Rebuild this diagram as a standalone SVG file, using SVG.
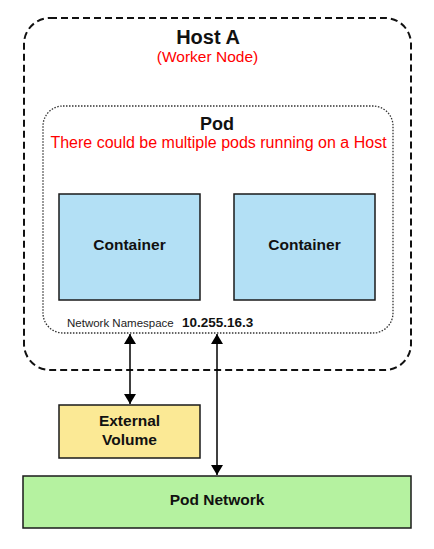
<svg xmlns="http://www.w3.org/2000/svg" width="434" height="549" viewBox="0 0 434 549">
<style>
.t{font-family:"Liberation Sans",Arial,sans-serif;text-anchor:middle}
.b{font-weight:bold;fill:#111}
.r{fill:#ff0000}
.box{stroke:#1a1a1a;stroke-width:1.5}
.edge{stroke:#000;stroke-width:1.5;fill:none}
</style>
<defs>
<marker id="ah" viewBox="0 0 10 10" refX="10" refY="5" markerWidth="10" markerHeight="12" markerUnits="userSpaceOnUse" orient="auto-start-reverse" preserveAspectRatio="none">
<path d="M0,0 L10,5 L0,10 Z" fill="#000"/>
</marker>
</defs>
<rect width="434" height="549" fill="#fff"/>
<g id="hostA">
<rect x="24" y="18" width="387" height="352" rx="26" fill="none" stroke="#111" stroke-width="2" stroke-dasharray="7,4"/>
<text class="t b" x="208" y="44" font-size="20">Host A</text>
<text class="t r" x="207.5" y="62" font-size="15.5">(Worker Node)</text>
</g>
<g id="pod">
<rect x="43" y="106" width="350" height="227" rx="20" fill="none" stroke="#333" stroke-width="1.3" stroke-dasharray="1.5,1.5"/>
<text class="t b" x="217" y="130" font-size="18">Pod</text>
<text class="t r" x="218.5" y="148" font-size="16">There could be multiple pods running on a Host</text>
<text x="67" y="327" font-family="Liberation Sans,Arial,sans-serif" font-size="11.5" fill="#222">Network Namespace</text>
<text x="182" y="327" font-family="Liberation Sans,Arial,sans-serif" font-size="13.5" font-weight="bold" fill="#111">10.255.16.3</text>
</g>
<g id="container1">
<rect class="box" x="59" y="194" width="141" height="106" fill="#b3e0f5"/>
<text class="t b" x="129.5" y="250" font-size="15.5">Container</text>
</g>
<g id="container2">
<rect class="box" x="234" y="194" width="141" height="106" fill="#b3e0f5"/>
<text class="t b" x="304.5" y="250" font-size="15.5">Container</text>
</g>
<g id="externalVolume">
<rect class="box" x="59" y="405" width="141" height="53" fill="#fbe995"/>
<text class="t b" x="129.5" y="426" font-size="15.5">External</text>
<text class="t b" x="129.5" y="445" font-size="15.5">Volume</text>
</g>
<g id="podNetwork">
<rect class="box" x="23" y="476" width="388" height="52" fill="#b5f2a0"/>
<text class="t b" x="217" y="505" font-size="15.5">Pod Network</text>
</g>
<g id="connectors">
<line class="edge" x1="130" y1="334" x2="130" y2="404" marker-start="url(#ah)" marker-end="url(#ah)"/>
<line class="edge" x1="217" y1="334" x2="217" y2="475" marker-start="url(#ah)" marker-end="url(#ah)"/>
</g>
</svg>
